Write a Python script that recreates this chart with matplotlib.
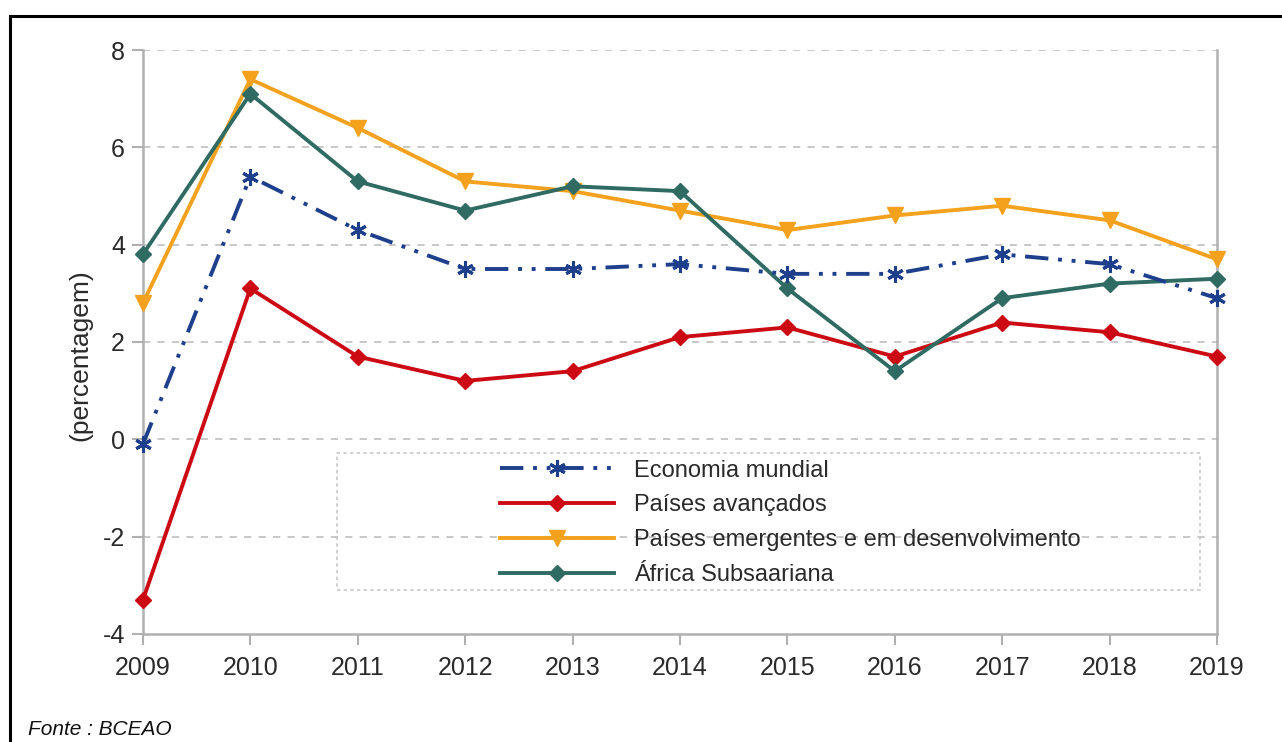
import matplotlib
matplotlib.use("Agg")
import matplotlib.pyplot as plt
from matplotlib.patches import Rectangle

# Taxas de crescimento do PIB (%)
anos = [2009, 2010, 2011, 2012, 2013, 2014, 2015, 2016, 2017, 2018, 2019]
economia_mundial = [-0.1, 5.4, 4.3, 3.5, 3.5, 3.6, 3.4, 3.4, 3.8, 3.6, 2.9]
paises_avancados = [-3.3, 3.1, 1.7, 1.2, 1.4, 2.1, 2.3, 1.7, 2.4, 2.2, 1.7]
paises_emergentes = [2.8, 7.4, 6.4, 5.3, 5.1, 4.7, 4.3, 4.6, 4.8, 4.5, 3.7]
africa_subsaariana = [3.8, 7.1, 5.3, 4.7, 5.2, 5.1, 3.1, 1.4, 2.9, 3.2, 3.3]
y_ticks = [-4, -2, 0, 2, 4, 6, 8]

plt.rcParams['font.family'] = ['Liberation Sans', 'DejaVu Sans']
plt.rcParams['axes.unicode_minus'] = False

fig = plt.figure(figsize=(12.82, 7.42), dpi=100)
ax = fig.add_axes([0.1115, 0.1456, 0.8378, 0.7870])

cinza = '#b0b0b0'
for y in y_ticks[1:]:
    ax.axhline(y, color='#c4c4c4', lw=1.3, ls=(0, (4, 4)), zorder=1)

l1, = ax.plot(anos, economia_mundial, color='#1d3f8c', lw=2.8,
              ls=(0, (6, 2.5, 1, 2.5, 1, 2.5)), marker=(6, 2, 0), ms=12,
              mew=2.2, clip_on=False, zorder=4, label='Economia mundial')
l2, = ax.plot(anos, paises_avancados, color='#cc0a14', lw=2.8, marker='D',
              ms=8, clip_on=False, zorder=3, label='Países avançados')
l3, = ax.plot(anos, paises_emergentes, color='#f4a11d', lw=2.8, marker='v',
              ms=12, clip_on=False, zorder=3,
              label='Países emergentes e em desenvolvimento')
l4, = ax.plot(anos, africa_subsaariana, color='#2f6b62', lw=2.8, marker='D',
              ms=8, clip_on=False, zorder=3, label='África Subsaariana')

ax.set_xlim(2009, 2019)
ax.set_ylim(-4, 8)
ax.set_xticks(anos)
ax.set_yticks(y_ticks)
ax.tick_params(axis='both', colors=cinza, labelcolor='#2a2a2a', labelsize=18,
               length=8, width=1.5)
ax.tick_params(axis='x', pad=8)
ax.tick_params(axis='y', pad=5)

for lado in ['left', 'bottom', 'right']:
    ax.spines[lado].set_color(cinza)
    ax.spines[lado].set_linewidth(1.8)
ax.spines['top'].set_visible(False)

ax.set_ylabel('(percentagem)', fontsize=19, color='#2a2a2a')
ax.yaxis.set_label_coords(-0.047, 0.478)

# moldura pontilhada da legenda
ax.add_patch(Rectangle((0.181, 0.075), 0.803, 0.235, transform=ax.transAxes,
                       fill=False, ec='#c8c8c8', lw=1.2, ls=(0, (2, 2)),
                       zorder=2))
ax.legend(handles=[l1, l2, l3, l4], loc='upper left',
          bbox_to_anchor=(0.313, 0.335), frameon=False, fontsize=17,
          handlelength=4.8, handletextpad=0.85, labelspacing=0.54,
          labelcolor='#2a2a2a')

# borda preta exterior
fig.patches.append(Rectangle((10 / 1282, -0.1), 1.2, 1 - 16 / 742 + 0.1,
                             transform=fig.transFigure, fill=False,
                             ec='black', lw=2.2))
fig.text(28 / 1282, 3 / 742, 'Fonte : BCEAO', fontsize=15,
         style='italic', va='bottom', ha='left', color='#111111')

fig.savefig('out.png', dpi=100)
